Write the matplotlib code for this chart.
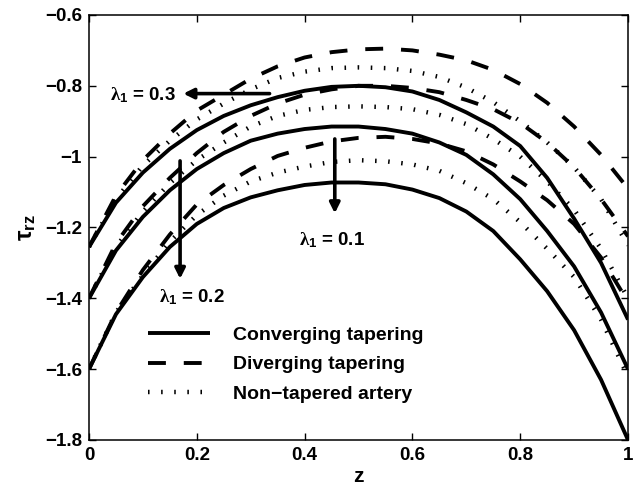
import matplotlib
matplotlib.use('Agg')
import matplotlib.pyplot as plt
from matplotlib.lines import Line2D

plt.rcParams.update({
    'font.family': ['Liberation Sans', 'DejaVu Sans'],
    'font.weight': 'bold',
    'font.size': 13.5,
    'mathtext.fontset': 'custom',
    'mathtext.rm': 'Liberation Serif',
    'mathtext.it': 'Liberation Serif',
    'mathtext.bf': 'Liberation Sans:bold',
    'axes.linewidth': 1.1,
})

# shear stress tau_rz along the axial coordinate z
z = [0.00, 0.05, 0.10, 0.15, 0.20, 0.25, 0.30, 0.35, 0.40, 0.45, 0.50,
     0.55, 0.60, 0.65, 0.70, 0.75, 0.80, 0.85, 0.90, 0.95, 1.00]

# converging tapering
conv_03 = [-1.255, -1.130, -1.045, -0.978, -0.925, -0.885, -0.855, -0.832, -0.814, -0.803, -0.800,
           -0.804, -0.816, -0.840, -0.875, -0.915, -0.970, -1.060, -1.175, -1.300, -1.460]
conv_02 = [-1.400, -1.265, -1.170, -1.095, -1.035, -0.990, -0.955, -0.935, -0.922, -0.915, -0.915,
           -0.922, -0.935, -0.960, -0.995, -1.050, -1.120, -1.210, -1.310, -1.440, -1.600]
conv_01 = [-1.600, -1.445, -1.340, -1.255, -1.190, -1.145, -1.115, -1.095, -1.080, -1.073, -1.073,
           -1.078, -1.093, -1.117, -1.155, -1.210, -1.290, -1.380, -1.490, -1.630, -1.800]

# diverging tapering
div_03 = [-1.255, -1.110, -1.010, -0.935, -0.870, -0.825, -0.780, -0.745, -0.720, -0.705, -0.697,
          -0.695, -0.700, -0.712, -0.728, -0.755, -0.795, -0.848, -0.915, -0.995, -1.090]
div_02 = [-1.400, -1.245, -1.140, -1.060, -0.990, -0.930, -0.885, -0.850, -0.825, -0.810, -0.800,
          -0.800, -0.806, -0.818, -0.840, -0.866, -0.905, -0.960, -1.030, -1.120, -1.225]
div_01 = [-1.600, -1.440, -1.320, -1.220, -1.135, -1.080, -1.035, -0.998, -0.975, -0.957, -0.947,
          -0.944, -0.950, -0.963, -0.985, -1.022, -1.070, -1.123, -1.190, -1.285, -1.410]

# non-tapered artery
non_03 = [-1.255, -1.120, -1.025, -0.955, -0.895, -0.850, -0.810, -0.778, -0.760, -0.750, -0.748,
          -0.750, -0.758, -0.775, -0.805, -0.846, -0.900, -0.960, -1.030, -1.120, -1.250]
non_02 = [-1.400, -1.255, -1.155, -1.075, -1.010, -0.960, -0.915, -0.885, -0.868, -0.860, -0.858,
          -0.860, -0.866, -0.882, -0.908, -0.950, -1.000, -1.070, -1.150, -1.260, -1.400]
non_01 = [-1.600, -1.440, -1.335, -1.240, -1.165, -1.110, -1.070, -1.045, -1.028, -1.015, -1.010,
          -1.013, -1.022, -1.040, -1.075, -1.120, -1.185, -1.260, -1.340, -1.460, -1.620]

yticks = [-1.8, -1.6, -1.4, -1.2, -1.0, -0.8, -0.6]
ytick_labels = ['\u22121.8', '\u22121.6', '\u22121.4', '\u22121.2', '\u22121', '\u22120.8', '\u22120.6']
xticks = [0, 0.2, 0.4, 0.6, 0.8, 1]
xtick_labels = ['0', '0.2', '0.4', '0.6', '0.8', '1']

LW = 2.8
solid = dict(color='black', lw=LW, linestyle='-', solid_capstyle='butt')
dashed = dict(color='black', lw=LW, linestyle=(0, (4.6, 4.6)), dash_capstyle='butt')
dotted = dict(color='black', lw=3.2, linestyle=(0, (0.35, 2.6)), dash_capstyle='butt')

fig = plt.figure(figsize=(6.37, 4.88), dpi=100)
ax = fig.add_axes([0.1397, 0.0984, 0.8462, 0.8709])

for c in (conv_03, conv_02, conv_01):
    ax.plot(z, c, **solid)
for d in (div_03, div_02, div_01):
    ax.plot(z, d, **dashed)
for n in (non_03, non_02, non_01):
    ax.plot(z, n, **dotted)

ax.set_xlim(0, 1)
ax.set_ylim(-1.8, -0.6)
ax.set_xticks(xticks)
ax.set_xticklabels(xtick_labels)
ax.set_yticks(yticks)
ax.set_yticklabels(ytick_labels)
ax.tick_params(direction='in', top=True, right=True, length=5, width=1, labelsize=13.5, pad=5)
ax.set_xlabel('z', fontsize=15, fontweight='bold', labelpad=2)
ax.set_ylabel(r'$\mathbf{\tau}_{\mathbf{rz}}$', fontsize=17, labelpad=5)

# lambda_1 annotations
lam = r'$\mathrm{\lambda}_{\mathbf{1}}$'
arrow = dict(arrowstyle='-|>', color='black', lw=2.6, mutation_scale=15, shrinkA=0, shrinkB=0)
ax.annotate('', xy=(0.175, -0.822), xytext=(0.335, -0.822), arrowprops=arrow)
ax.text(0.10, -0.826, lam + ' = 0.3', ha='center', va='center', fontsize=13.5)
ax.annotate('', xy=(0.169, -1.345), xytext=(0.169, -1.012), arrowprops=arrow)
ax.text(0.191, -1.397, lam + ' = 0.2', ha='center', va='center', fontsize=13.5)
ax.annotate('', xy=(0.456, -1.16), xytext=(0.456, -0.95), arrowprops=arrow)
ax.text(0.451, -1.235, lam + ' = 0.1', ha='center', va='center', fontsize=13.5)

handles = [Line2D([], [], **solid), Line2D([], [], **dashed), Line2D([], [], **dotted)]
labels = ['Converging tapering', 'Diverging tapering', 'Non\u2212tapered artery']
ax.legend(handles, labels, loc='upper left', bbox_to_anchor=(0.109, 0.268), frameon=False,
          borderpad=0, borderaxespad=0, handlelength=3.2, handletextpad=1.2,
          labelspacing=0.62, prop={'weight': 'bold', 'size': 14})

fig.savefig('out.png', dpi=100)
plt.close(fig)
